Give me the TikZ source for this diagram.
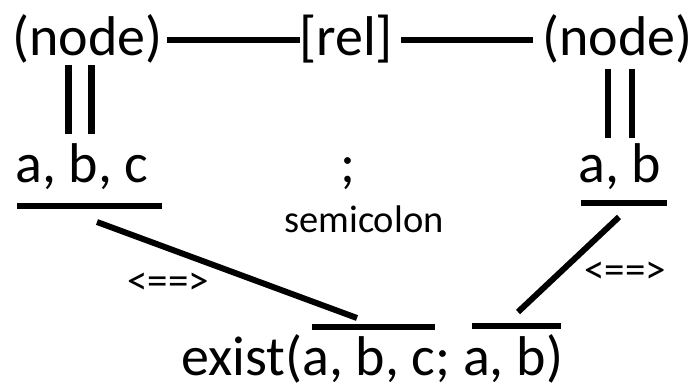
\documentclass[tikz,border=0pt]{standalone}
\usepackage{fontspec}
\setmainfont{Carlito}
\begin{document}
\begin{tikzpicture}[x=1pt,y=-1pt,
  big/.style={font=\fontsize{56}{60}\selectfont, inner sep=0pt, anchor=base west},
  mid/.style={font=\fontsize{38.5}{42}\selectfont, inner sep=0pt, anchor=base west},
  sml/.style={font=\fontsize{41}{44}\selectfont, inner sep=0pt, anchor=base west},
  ln/.style={line width=6pt},
  vln/.style={line width=6.5pt}]
\useasboundingbox (0,0) rectangle (693,391);
% texts
\node[big] (n1) at (12,55) {(node)};
\node[big] (rel) at (299,55) {[rel]};
\node[big] (n2) at (542,55) {(node)};
\node[big] (abc) at (15,182) {a, b, c};
\node[big] (semi) at (340,182) {;};
\node[mid] (semitxt) at (284,232) {semicolon};
\node[big] (ab) at (578,182) {a, b};
\node[sml] (eq1) at (127,294) {<==>};
\node[sml] (eq2) at (584,283) {<==>};
\node[big] (ex) at (181,375) {exist(a, b, c; a, b)};
% line end points
\coordinate (t1a) at (167,40); \coordinate (t1b) at (300,40);
\coordinate (t2a) at (401,40); \coordinate (t2b) at (533,40);
\coordinate (v1a) at (68.5,65);  \coordinate (v1b) at (68.5,134);
\coordinate (v2a) at (91.5,65);  \coordinate (v2b) at (91.5,134);
\coordinate (v3a) at (608,69); \coordinate (v3b) at (608,138);
\coordinate (v4a) at (632,69); \coordinate (v4b) at (632,138);
\coordinate (u1a) at (17,206); \coordinate (u1b) at (162,206);
\coordinate (u2a) at (581,203); \coordinate (u2b) at (667,203);
\coordinate (o1a) at (312,327); \coordinate (o1b) at (435,327);
\coordinate (o2a) at (472,326); \coordinate (o2b) at (561,326);
\coordinate (d1a) at (97,222); \coordinate (d1b) at (357,318);
\coordinate (d2a) at (619,217); \coordinate (d2b) at (518,312);
% connectors
\draw[ln] (t1a) -- (t1b);
\draw[ln] (t2a) -- (t2b);
\draw[vln] (v1a) -- (v1b);
\draw[vln] (v2a) -- (v2b);
\draw[vln] (v3a) -- (v3b);
\draw[vln] (v4a) -- (v4b);
\draw[ln] (u1a) -- (u1b);
\draw[ln] (u2a) -- (u2b);
\draw[ln] (o1a) -- (o1b);
\draw[ln] (o2a) -- (o2b);
\draw[ln] (d1a) -- (d1b);
\draw[ln] (d2a) -- (d2b);
\end{tikzpicture}
\end{document}
